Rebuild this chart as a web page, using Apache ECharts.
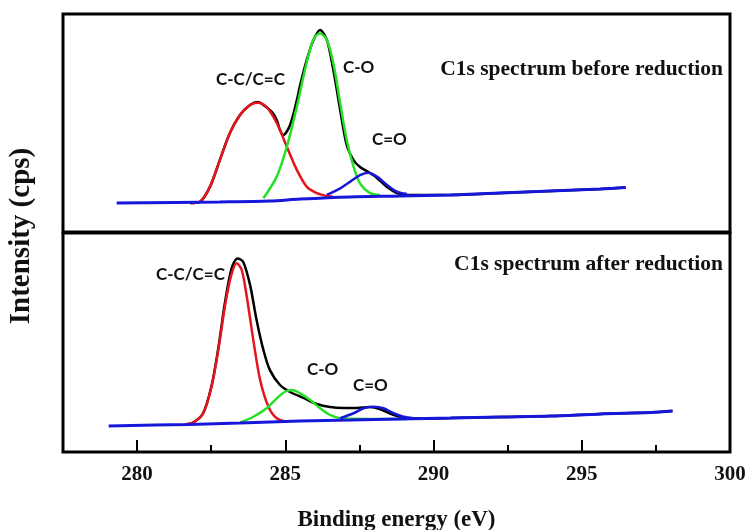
<!DOCTYPE html>
<html>
<head>
<meta charset="utf-8">
<script src="https://cdn.jsdelivr.net/npm/echarts@6/dist/echarts.min.js"></script>
<style>
  html, body { margin: 0; padding: 0; background: #fff; }
  #main { width: 752px; height: 530px; }
</style>
</head>
<body>
<div id="main"></div>
<script>
// values: [binding energy (eV), intensity (a.u.)]
// before reduction (top panel)
const beforeData = [[281.79, 13.3], [282.12, 13.9], [282.46, 20.8], [282.79, 33.0], [283.13, 45.4], [283.47, 53.7],
  [283.81, 58.3], [284.07, 59.6], [284.31, 57.8], [284.55, 55.0], [284.71, 51.4], [284.82, 46.8], [284.93, 44.5],
  [285.16, 49.1], [285.39, 60.6], [285.5, 67.4], [285.72, 78.9], [285.95, 88.1], [286.17, 92.7], [286.4, 88.1],
  [286.62, 74.3], [286.85, 56.0], [287.07, 39.9], [287.3, 33.0], [287.52, 29.8], [287.8, 27.5], [288.09, 24.8],
  [288.43, 20.6], [288.76, 17.9], [289.1, 17.0], [290.57, 17.0]]
const beforeCC = [[281.79, 13.3], [282.12, 13.9], [282.46, 20.8], [282.79, 33.0], [283.13, 45.4], [283.47, 53.7],
  [283.81, 58.3], [284.07, 59.3], [284.37, 57.3], [284.71, 50.0], [285.05, 39.1], [285.39, 28.4], [285.72, 20.8],
  [286.06, 17.8], [286.4, 16.5], [286.61, 16.2]]
const beforeCO = [[284.26, 15.5], [284.71, 25.4], [285.05, 39.1], [285.39, 57.5], [285.61, 71.2], [285.83, 83.5],
  [286.0, 89.6], [286.17, 91.1], [286.4, 88.1], [286.62, 77.4], [286.85, 59.2], [287.07, 42.2], [287.3, 30.0],
  [287.52, 22.3], [287.86, 17.8], [288.2, 17.0]]
const beforeCdO = [[286.4, 17.0], [286.85, 20.0], [287.19, 23.1], [287.52, 26.1], [287.8, 27.2], [288.09, 25.4],
  [288.43, 21.6], [288.76, 18.5], [289.1, 17.4]]
const beforeBase = [[279.31, 13.3], [282.79, 13.8], [284.48, 14.2], [285.5, 15.1], [287.19, 16.1], [288.88, 16.5],
  [290.57, 17.0], [292.26, 17.9], [293.94, 18.8], [295.63, 19.7], [296.48, 20.4]]

// after reduction (bottom panel)
const afterData = [[281.61, 12.6], [281.89, 13.4], [282.23, 17.8], [282.51, 30.1], [282.74, 47.5], [282.96, 68.0],
  [283.19, 84.0], [283.39, 88.4], [283.58, 86.8], [283.81, 76.3], [284.03, 60.3], [284.26, 46.6], [284.48, 37.4],
  [284.82, 30.6], [285.16, 27.4], [285.61, 24.7], [286.06, 21.9], [286.51, 20.5], [286.96, 20.1], [287.41, 20.1],
  [287.86, 20.5], [288.2, 19.5], [288.64, 17.0], [289.1, 15.4], [289.55, 15.3], [290.57, 15.5]]
const afterCC = [[281.61, 12.6], [281.89, 13.4], [282.23, 17.7], [282.51, 29.8], [282.74, 46.6], [282.96, 66.3],
  [283.16, 80.0], [283.36, 86.2], [283.53, 83.1], [283.7, 70.9], [283.92, 51.1], [284.15, 32.9], [284.43, 20.7],
  [284.71, 15.4], [285.05, 13.8]]
const afterCO = [[283.47, 13.4], [283.92, 16.1], [284.37, 20.0], [284.71, 24.5], [284.99, 27.5], [285.22, 28.3],
  [285.5, 26.8], [285.84, 23.7], [286.17, 20.0], [286.51, 16.9], [286.85, 15.4], [287.86, 15.1], [289.1, 15.1]]
const afterCdO = [[286.85, 15.4], [287.3, 17.7], [287.64, 20.0], [287.97, 20.7], [288.31, 20.0], [288.65, 17.7],
  [288.99, 16.1], [289.32, 15.4]]
const afterBase = [[279.04, 11.9], [281.78, 12.6], [283.47, 13.2], [285.5, 14.2], [287.19, 14.6], [288.88, 15.1],
  [290.57, 15.5], [292.26, 16.0], [293.94, 16.4], [295.63, 17.4], [297.32, 18.0], [298.06, 18.7]]

const majorTicks = [280, 285, 290, 295, 300]
const minorTicks = [282.5, 287.5, 292.5, 297.5]

let myChart = echarts.init(document.getElementById('main'))
const serif = 'Liberation Serif'
const sans = 'Lato'

function curve (name, data, color, width, grid) {
  return {
    name: name,
    type: 'line',
    xAxisIndex: grid,
    yAxisIndex: grid,
    data: data,
    smooth: 0.3,
    showSymbol: false,
    lineStyle: { color: color, width: width },
    silent: true
  }
}

function peakLabel (text, x, y) {
  return {
    type: 'text', left: x, top: y,
    style: { text: text, font: 'bold 17px ' + sans, fill: '#111' }
  }
}

let option = {
  animation: false,
  grid: [
    { left: 63, right: 22, top: 14, height: 218, show: true, borderColor: '#000', borderWidth: 3, outerBoundsMode: 'none' },
    { left: 63, right: 22, top: 233, height: 219, show: true, borderColor: '#000', borderWidth: 3, outerBoundsMode: 'none' }
  ],
  xAxis: [
    { gridIndex: 0, type: 'value', min: 277.5, max: 300, axisLine: { show: false }, axisTick: { show: false },
      axisLabel: { show: false }, splitLine: { show: false } },
    { gridIndex: 1, type: 'value', position: 'bottom', min: 277.5, max: 300, axisLine: { show: false }, splitLine: { show: false },
      axisTick: { inside: true, length: 12, customValues: majorTicks, lineStyle: { color: '#000', width: 2 } },
      axisLabel: { customValues: majorTicks, margin: 12, color: '#111', fontFamily: serif, fontWeight: 'bold', fontSize: 21 },
      name: 'Binding energy (eV)', nameLocation: 'middle', nameGap: 57,
      nameTextStyle: { color: '#111', fontFamily: serif, fontWeight: 'bold', fontSize: 23 } },
    { gridIndex: 1, type: 'value', position: 'bottom', offset: 0, min: 277.5, max: 300, axisLine: { show: false },
      splitLine: { show: false },
      axisTick: { inside: true, length: 7, customValues: minorTicks, lineStyle: { color: '#000', width: 2 } },
      axisLabel: { show: false } }
  ],
  yAxis: [
    { gridIndex: 0, type: 'value', min: 0, max: 100, show: false },
    { gridIndex: 1, type: 'value', min: 0, max: 100, show: false }
  ],
  series: [
    curve('data before', beforeData.concat(beforeBase.slice(7)), '#000', 2.5, 0),
    curve('C-C/C=C before', beforeCC, '#e6141c', 2.5, 0),
    curve('C-O before', beforeCO, '#26e026', 2.5, 0),
    curve('C=O before', beforeCdO, '#1717dc', 2.5, 0),
    curve('background before', beforeBase, '#1717dc', 3, 0),
    curve('data after', afterData.concat(afterBase.slice(7)), '#000', 2.5, 1),
    curve('C-C/C=C after', afterCC, '#e6141c', 2.5, 1),
    curve('C-O after', afterCO, '#26e026', 2.5, 1),
    curve('C=O after', afterCdO, '#1717dc', 2.5, 1),
    curve('background after', afterBase, '#1717dc', 3, 1)
  ],
  graphic: [
    { type: 'text', right: 29, top: 58,
      style: { text: 'C1s spectrum before reduction', font: 'bold 21.5px ' + serif, fill: '#111' } },
    { type: 'text', right: 29, top: 253,
      style: { text: 'C1s spectrum after reduction', font: 'bold 21.5px ' + serif, fill: '#111' } },
    peakLabel('C-C/C=C', 216, 71),
    peakLabel('C-O', 343, 59),
    peakLabel('C=O', 372, 131),
    peakLabel('C-C/C=C', 156, 266),
    peakLabel('C-O', 307, 361),
    peakLabel('C=O', 353, 377),
    { type: 'text', x: 22, y: 236, rotation: Math.PI / 2,
      style: { text: 'Intensity (cps)', font: 'bold 29px ' + serif, fill: '#111', align: 'center', verticalAlign: 'middle' } }
  ]
}
option && myChart.setOption(option)
</script>
</body>
</html>
